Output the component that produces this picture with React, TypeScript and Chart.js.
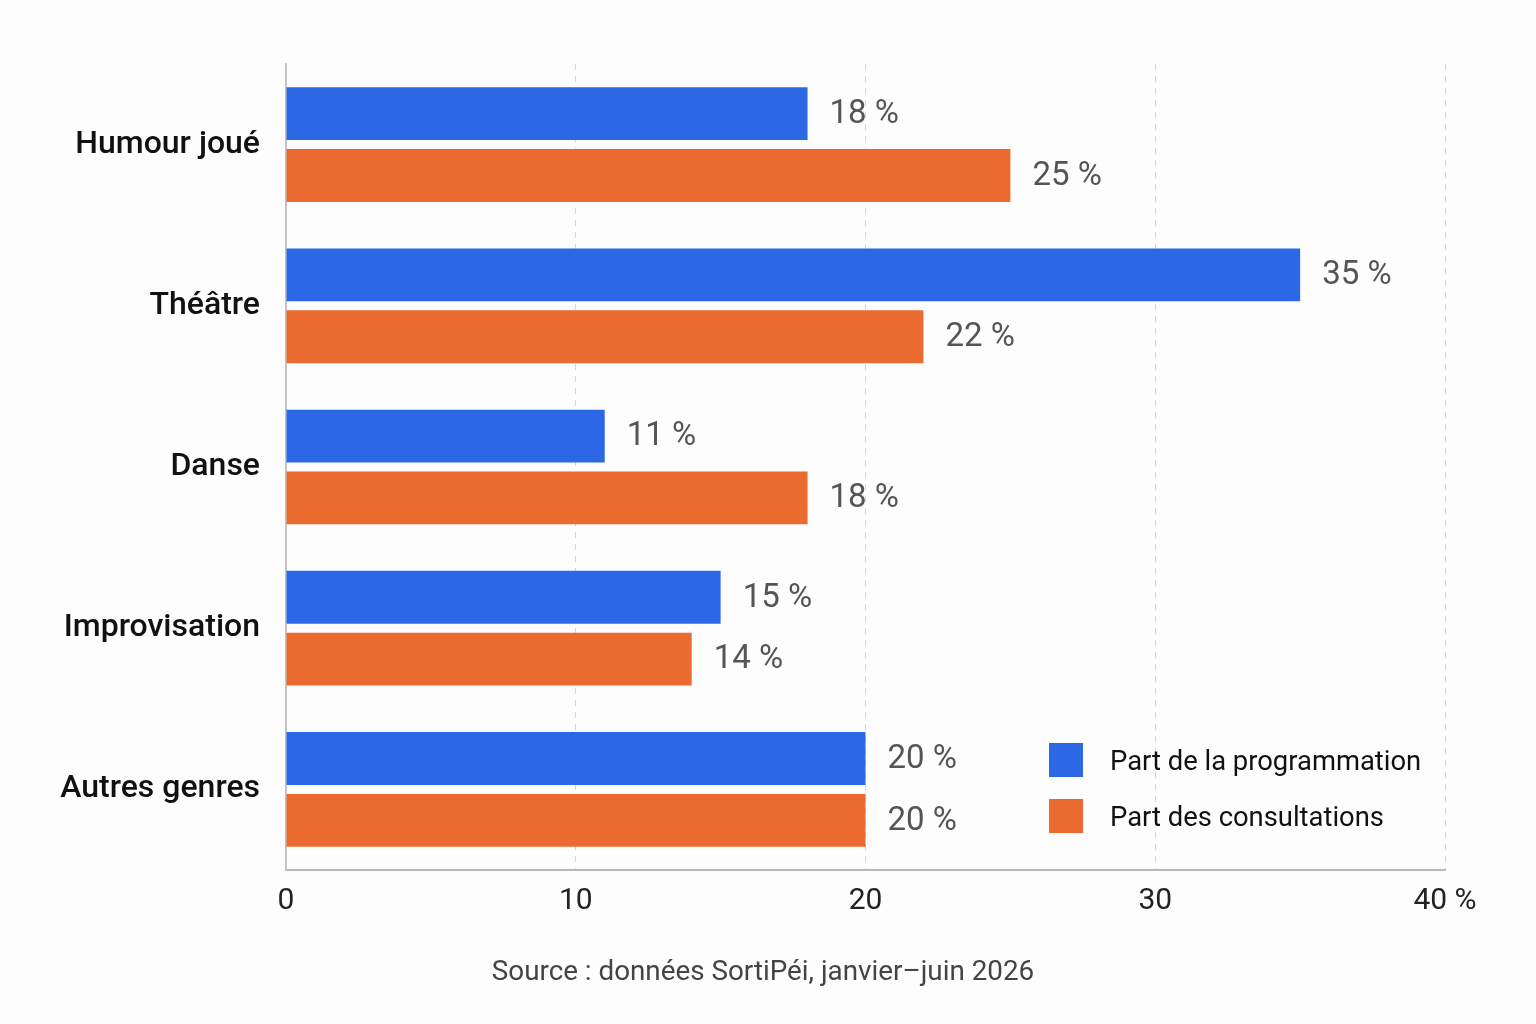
import React, { useEffect, useRef } from "react";
import { Chart, registerables } from "chart.js";

Chart.register(...registerables);

const categories = ["Humour joué", "Théâtre", "Danse", "Improvisation", "Autres genres"];
const programmation = [18, 35, 11, 15, 20];
const consultations = [25, 22, 18, 14, 20];
const seriesLabels = ["Part de la programmation", "Part des consultations"];
const seriesColors = ["#2c67e6", "#ea6a2f"];
const xTicks = [0, 10, 20, 30, 40];
const sourceText = "Source : données SortiPéi, janvier–juin 2026";

const FONT = "Roboto, 'Noto Sans', sans-serif";

const valueLabels = {
  id: "valueLabels",
  afterDatasetsDraw(chart: any) {
    const ctx = chart.ctx;
    ctx.save();
    ctx.font = `33px ${FONT}`;
    ctx.fillStyle = "#555555";
    ctx.textAlign = "left";
    ctx.textBaseline = "middle";
    chart.data.datasets.forEach((ds: any, i: number) => {
      const meta = chart.getDatasetMeta(i);
      meta.data.forEach((bar: any, j: number) => {
        ctx.fillText(`${ds.data[j]} %`, bar.x + 22, bar.y + 1);
      });
    });
    ctx.restore();
  },
};

const legendAndSource = {
  id: "legendAndSource",
  afterDraw(chart: any) {
    const ctx = chart.ctx;
    ctx.save();
    const x0 = 1049;
    const ys = [760, 816];
    chart.data.datasets.forEach((ds: any, i: number) => {
      ctx.fillStyle = ds.backgroundColor;
      ctx.fillRect(x0, ys[i] - 17, 34, 34);
      ctx.fillStyle = "#111111";
      ctx.font = `27.4px ${FONT}`;
      ctx.textAlign = "left";
      ctx.textBaseline = "middle";
      ctx.fillText(ds.label, 1110, ys[i] + 3);
    });
    ctx.fillStyle = "#444444";
    ctx.font = `27.8px ${FONT}`;
    ctx.textAlign = "center";
    ctx.textBaseline = "middle";
    ctx.fillText(sourceText, 763, 973);
    ctx.restore();
  },
};

export default function App() {
  const ref = useRef<HTMLCanvasElement | null>(null);
  useEffect(() => {
    if (!ref.current) return;
    const chart = new Chart(ref.current, {
      type: "bar",
      data: {
        labels: categories,
        datasets: [
          {
            label: seriesLabels[0],
            data: programmation,
            backgroundColor: seriesColors[0],
            borderWidth: 0,
            categoryPercentage: 0.767,
            barPercentage: 0.855,
          },
          {
            label: seriesLabels[1],
            data: consultations,
            backgroundColor: seriesColors[1],
            borderWidth: 0,
            categoryPercentage: 0.767,
            barPercentage: 0.855,
          },
        ],
      },
      options: {
        indexAxis: "y",
        animation: false,
        responsive: true,
        maintainAspectRatio: false,
        layout: { padding: { top: 64, right: 91, left: 0, bottom: 0 } },
        plugins: {
          legend: { display: false },
          tooltip: { enabled: false },
        },
        scales: {
          x: {
            type: "linear",
            min: xTicks[0],
            max: xTicks[xTicks.length - 1],
            afterBuildTicks: (scale: any) => {
              scale.ticks = xTicks.map((v) => ({ value: v }));
            },
            afterFit: (scale: any) => {
              scale.height = 154;
            },
            ticks: {
              callback: (v: any) => (Number(v) === 40 ? "40 %" : String(v)),
              color: "#222222",
              font: { family: FONT, size: 30 },
              padding: 13,
              maxRotation: 0,
            },
            grid: {
              drawTicks: false,
              color: (c: any) => (c.tick && c.tick.value === 0 ? "rgba(0,0,0,0)" : "#d6d6d6"),
              lineWidth: 1,
            },
            border: { display: true, color: "#b8b8b8", width: 2, dash: [6, 6] },
          },
          y: {
            type: "category",
            afterFit: (scale: any) => {
              scale.width = 286;
            },
            ticks: {
              color: "#111111",
              font: { family: FONT, size: 32, weight: "500" },
              padding: 26,
            },
            grid: { display: false, drawTicks: false },
            border: { display: true, color: "#c4c4c4", width: 2 },
          },
        },
      },
      plugins: [valueLabels, legendAndSource],
    });
    return () => chart.destroy();
  }, []);

  return (
    <div
      style={{
        position: "absolute",
        left: 0,
        top: 0,
        width: 1536,
        height: 1024,
        background: "#fdfdfd",
      }}
    >
      <canvas ref={ref} />
    </div>
  );
}
